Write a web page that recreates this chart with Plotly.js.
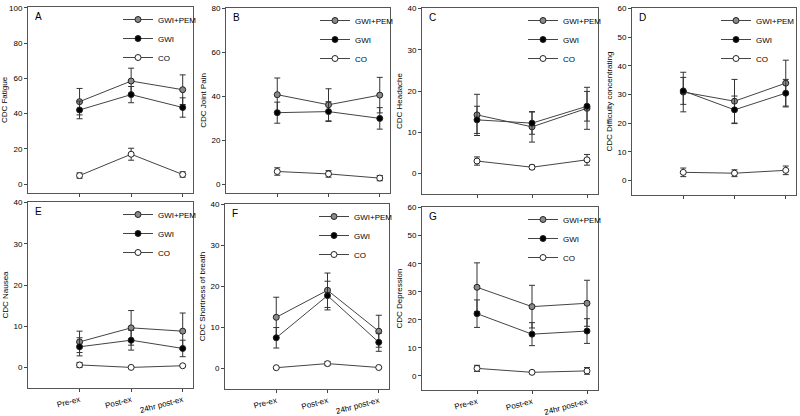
<!DOCTYPE html>
<html>
<head>
<meta charset="utf-8">
<script src="https://cdn.plot.ly/plotly-3.0.1.min.js"></script>
<style>html,body{margin:0;padding:0;background:#fff;}#chart{width:800px;height:416px;}</style>
</head>
<body>
<div id="chart"></div>
<script>
// ---- data ----
const timepoints = ["Pre-ex", "Post-ex", "24hr post-ex"];
const xIndex = [0, 1, 2];
const groups = ["GWI+PEM", "GWI", "CO"];
const panelLetters = ["A", "B", "C", "D", "E", "F", "G"];
const yTitles = ["CDC Fatigue", "CDC Joint Pain", "CDC Headache", "CDC Difficulty concentrating",
                 "CDC Nausea", "CDC Shortness of breath", "CDC Depression"];

// means [GWI+PEM, GWI, CO] per panel
const fatigue_pem = [46.8, 58.5, 53.6], fatigue_gwi = [42.1, 50.8, 43.5], fatigue_co = [4.9, 17.0, 5.5];
const fatigue_pem_err = [7.5, 7.3, 8.4], fatigue_gwi_err = [5.0, 4.6, 5.5], fatigue_co_err = [1.5, 3.4, 1.5];

const joint_pem = [40.8, 36.2, 40.6], joint_gwi = [32.6, 33.1, 30.0], joint_co = [5.8, 4.7, 2.8];
const joint_pem_err = [7.6, 7.3, 8.1], joint_gwi_err = [4.8, 4.5, 4.9], joint_co_err = [1.7, 1.5, 1.2];

const headache_pem = [14.2, 11.3, 15.8], headache_gwi = [13.0, 12.2, 16.3], headache_co = [3.0, 1.5, 3.3];
const headache_pem_err = [5.0, 3.7, 5.1], headache_gwi_err = [3.3, 2.7, 3.6], headache_co_err = [1.0, 0.5, 1.3];

const concentr_pem = [30.9, 27.7, 34.0], concentr_gwi = [31.3, 24.7, 30.5], concentr_co = [2.9, 2.6, 3.6];
const concentr_pem_err = [6.9, 7.6, 8.0], concentr_gwi_err = [4.7, 4.8, 4.8], concentr_co_err = [1.5, 1.2, 1.5];

const nausea_pem = [6.2, 9.6, 8.8], nausea_gwi = [5.0, 6.6, 4.6], nausea_co = [0.6, 0.0, 0.4];
const nausea_pem_err = [2.6, 4.2, 4.4], nausea_gwi_err = [2.2, 2.4, 2.0], nausea_co_err = [0.6, 0.0, 0.2];

const breath_pem = [12.5, 19.1, 9.1], breath_gwi = [7.5, 17.8, 6.4], breath_co = [0.2, 1.2, 0.25];
const breath_pem_err = [4.9, 4.2, 3.9], breath_gwi_err = [2.5, 3.5, 2.2], breath_co_err = [0.1, 0.5, 0.1];

const depress_pem = [31.6, 24.7, 25.9], depress_gwi = [22.2, 14.9, 16.0], depress_co = [2.7, 1.3, 1.8];
const depress_pem_err = [8.7, 7.6, 8.2], depress_gwi_err = [4.9, 4.1, 4.4], depress_co_err = [1.1, 0.5, 1.2];

// y tick values per panel
const yTicksA = [0, 20, 40, 60, 80, 100];
const yTicksB = [0, 20, 40, 60, 80];
const yTicksC = [0, 10, 20, 30, 40];
const yTicksD = [0, 10, 20, 30, 40, 50, 60];
const yTicksE = [0, 10, 20, 30, 40];
const yTicksF = [0, 10, 20, 30, 40];
const yTicksG = [0, 10, 20, 30, 40, 50, 60];

const panelMeans = [
  [fatigue_pem, fatigue_gwi, fatigue_co],
  [joint_pem, joint_gwi, joint_co],
  [headache_pem, headache_gwi, headache_co],
  [concentr_pem, concentr_gwi, concentr_co],
  [nausea_pem, nausea_gwi, nausea_co],
  [breath_pem, breath_gwi, breath_co],
  [depress_pem, depress_gwi, depress_co]
];
const panelErrs = [
  [fatigue_pem_err, fatigue_gwi_err, fatigue_co_err],
  [joint_pem_err, joint_gwi_err, joint_co_err],
  [headache_pem_err, headache_gwi_err, headache_co_err],
  [concentr_pem_err, concentr_gwi_err, concentr_co_err],
  [nausea_pem_err, nausea_gwi_err, nausea_co_err],
  [breath_pem_err, breath_gwi_err, breath_co_err],
  [depress_pem_err, depress_gwi_err, depress_co_err]
];
const panelYTicks = [yTicksA, yTicksB, yTicksC, yTicksD, yTicksE, yTicksF, yTicksG];
const yRanges = [[-5, 100.5], [-4, 80.3], [-5, 40.15], [-5, 60.2], [-5, 40.15], [-5, 40.15], [-5, 60.2]];

// ---- layout (pixels) ----
const W = 800, H = 416;
const boxes = [ // [left, top, right, bottom] in px
  [28, 7, 193, 193], [226, 8, 390, 193], [422, 8, 598, 194], [632, 8, 796, 195],
  [28, 202, 193, 388], [225, 204, 389, 389], [422, 207, 598, 390]
];
const fillColors = ["#8a8a8a", "#000000", "#ffffff"];
const FONT = "Liberation Sans, Arial, sans-serif";

const traces = [];
const layout = {
  width: W, height: H,
  margin: {l: 0, r: 0, t: 0, b: 0, autoexpand: false},
  paper_bgcolor: "#fff", plot_bgcolor: "#fff",
  showlegend: true,
  font: {family: FONT, size: 8, color: "#000"},
  annotations: []
};

boxes.forEach((b, p) => {
  const n = p + 1;
  const xa = "x" + (n === 1 ? "" : n), ya = "y" + (n === 1 ? "" : n);
  const xKey = "xaxis" + (n === 1 ? "" : n), yKey = "yaxis" + (n === 1 ? "" : n);
  const legKey = "legend" + (n === 1 ? "" : n);
  const bottomRow = p >= 4;
  layout[xKey] = {
    domain: [b[0] / W, b[2] / W], anchor: ya,
    range: [-1, 2.2], tickmode: "array", tickvals: xIndex, ticktext: timepoints,
    showticklabels: bottomRow, tickangle: -15, ticklabeloverflow: "allow",
    ticks: "outside", ticklen: 3, tickcolor: "#444",
    showline: true, mirror: true, linecolor: "#555", linewidth: 1,
    showgrid: false, zeroline: false,
    tickfont: {family: FONT, size: 8, color: "#000"}, fixedrange: true
  };
  layout[yKey] = {
    domain: [1 - b[3] / H, 1 - b[1] / H], anchor: xa,
    range: yRanges[p], tickmode: "array", tickvals: panelYTicks[p],
    ticktext: panelYTicks[p].map(String), ticklabeloverflow: "allow",
    ticks: "outside", ticklen: 3, tickcolor: "#444",
    showline: true, mirror: true, linecolor: "#555", linewidth: 1,
    showgrid: false, zeroline: false,
    tickfont: {family: FONT, size: 8, color: "#000"},
    title: {text: yTitles[p], font: {family: FONT, size: 8, color: "#000"}, standoff: 3},
    fixedrange: true
  };
  layout[legKey] = {
    x: (b[2] - (p === 3 ? 80 : 75)) / W, y: 1 - (b[1] - 2) / H, xanchor: "left", yanchor: "top",
    bgcolor: "rgba(0,0,0,0)", borderwidth: 0, itemwidth: 30,
    font: {family: FONT, size: 8, color: "#000"}, tracegroupgap: 0
  };
  layout.annotations.push({
    xref: xa + " domain", yref: ya + " domain", x: 0.03, y: 0.99,
    xanchor: "left", yanchor: "top", showarrow: false,
    text: panelLetters[p], font: {family: FONT, size: 10, color: "#000"}
  });
  groups.forEach((g, gi) => {
    traces.push({
      type: "scatter", mode: "lines+markers",
      x: xIndex, y: panelMeans[p][gi],
      xaxis: xa, yaxis: ya, legend: legKey, name: g,
      line: {color: "#444", width: 1},
      marker: {size: 6, color: fillColors[gi], line: {color: "#222", width: 1}},
      error_y: {type: "data", array: panelErrs[p][gi], visible: true, color: "#333", thickness: 1, width: 3},
      hoverinfo: "skip"
    });
  });
});

Plotly.newPlot("chart", traces, layout, {staticPlot: true});
</script>
</body>
</html>
